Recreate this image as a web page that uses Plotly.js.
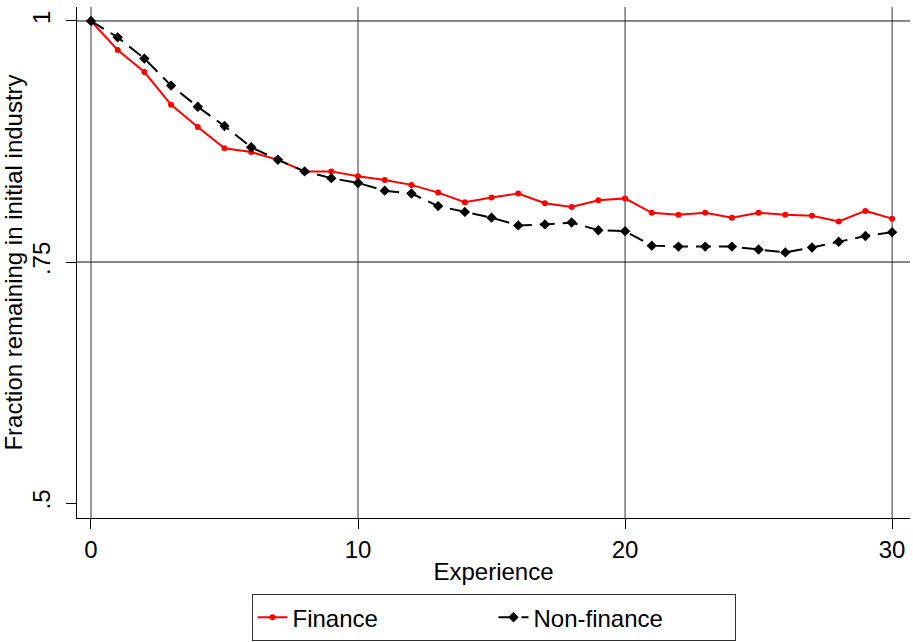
<!DOCTYPE html>
<html>
<head>
<meta charset="utf-8">
<script src="https://cdn.plot.ly/plotly-3.0.1.min.js"></script>
<style>html,body{margin:0;padding:0;background:#fff;}#chart{width:913px;height:642px;}</style>
</head>
<body>
<div id="chart"></div>
<script>
var experience = [0,1,2,3,4,5,6,7,8,9,10,11,12,13,14,15,16,17,18,19,20,21,22,23,24,25,26,27,28,29,30];
var finance = [1.000,0.970,0.947,0.913,0.890,0.868,0.864,0.856,0.844,0.844,0.839,0.835,0.830,0.822,0.812,0.817,0.821,0.811,0.807,0.814,0.816,0.801,0.799,0.801,0.796,0.801,0.799,0.798,0.792,0.803,0.795];
var nonFinance = [1.000,0.983,0.961,0.933,0.911,0.891,0.869,0.856,0.844,0.837,0.832,0.824,0.821,0.808,0.802,0.796,0.788,0.789,0.791,0.783,0.782,0.767,0.766,0.766,0.766,0.763,0.760,0.765,0.771,0.777,0.781];
var xTicks = [0,10,20,30];
var xTickText = ['0','10','20','30'];
var yTicks = [0.5,0.75,1];
var yTickText = ['.5','.75','1'];
var hGrid = [0.75,1];

var FONT = 'Liberation Sans, Arial, sans-serif';
var FS = 24;

var traces = [
  {x: experience, y: finance, name: 'Finance', type: 'scatter', mode: 'lines+markers',
   line: {color: '#ff0000', width: 2}, marker: {symbol: 'circle', size: 6, color: '#ff0000'}},
  {x: experience, y: nonFinance, name: 'Non-finance', type: 'scatter', mode: 'lines+markers',
   line: {color: '#000000', width: 2, dash: '15px,8px'}, marker: {symbol: 'diamond', size: 8, color: '#000000'}}
];

var shapes = [];
xTicks.forEach(function(v){
  shapes.push({type:'line', xref:'x', yref:'paper', x0:v, x1:v, y0:0, y1:1, layer:'below',
    line:{color:'#333333', width:1}});
});
hGrid.forEach(function(v){
  shapes.push({type:'line', xref:'paper', yref:'y', x0:0, x1:1, y0:v, y1:v, layer:'below',
    line:{color:'#111111', width:1}});
});

var layout = {
  width: 913, height: 642,
  margin: {l: 77, r: 3, t: 7, b: 124, autoexpand: false},
  paper_bgcolor: '#ffffff', plot_bgcolor: '#ffffff',
  font: {family: FONT, size: FS, color: '#000'},
  showlegend: true,
  legend: {orientation: 'h', x: 0.5, xanchor: 'center', y: -0.149, yanchor: 'top',
    bordercolor: '#333333', borderwidth: 1, font: {family: FONT, size: FS, color: '#000'},
    entrywidth: 196, entrywidthmode: 'pixels', traceorder: 'normal'},
  xaxis: {range: [-0.524, 30.67], tickmode: 'array', tickvals: xTicks, ticktext: xTickText,
    showgrid: false, zeroline: false, showline: true, linecolor: '#000', linewidth: 1,
    ticks: 'outside', ticklen: 10, tickcolor: '#000', tickwidth: 1,
    tickfont: {family: FONT, size: FS, color: '#000'},
    title: {text: 'Experience', font: {family: FONT, size: FS, color: '#000'}, standoff: 1}},
  yaxis: {range: [0.4845, 1.0145], tickmode: 'array', tickvals: yTicks, ticktext: yTickText,
    showgrid: false, zeroline: false, showline: true, linecolor: '#000', linewidth: 1,
    ticks: 'outside', ticklen: 10, tickcolor: '#000', tickwidth: 1, tickangle: -90,
    ticklabelstandoff: 6,
    tickfont: {family: FONT, size: FS, color: '#000'},
    title: {text: 'Fraction remaining in initial industry', font: {family: FONT, size: FS, color: '#000'}, standoff: 2}},
  shapes: shapes
};

Plotly.newPlot('chart', traces, layout, {displayModeBar: false, staticPlot: true});
</script>
</body>
</html>
